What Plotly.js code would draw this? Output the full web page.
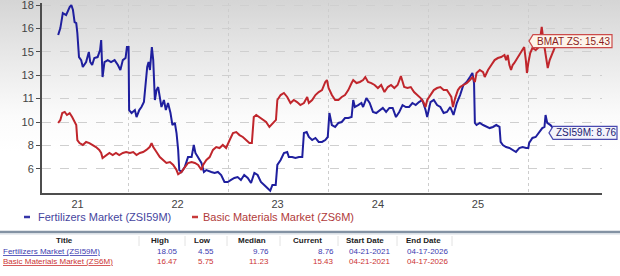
<!DOCTYPE html>
<html>
<head>
<meta charset="utf-8">
<script src="https://cdn.plot.ly/plotly-3.0.1.min.js"></script>
<style>
html,body{margin:0;padding:0;background:#fff;}
#chart{width:620px;height:276px;}
</style>
</head>
<body>
<div id="chart"></div>
<script>
// ---------- DATA ----------
var fertDates = ["2021-04-21","2021-04-29","2021-05-08","2021-05-20","2021-06-02","2021-06-08","2021-06-14","2021-06-20","2021-06-26","2021-06-30",
"2021-07-06","2021-07-14","2021-07-20","2021-08-01","2021-08-11","2021-08-16","2021-08-23","2021-08-31","2021-09-12","2021-09-21",
"2021-09-25","2021-09-30","2021-10-07","2021-10-19","2021-10-31","2021-11-13","2021-11-25","2021-12-04","2021-12-13","2021-12-23",
"2021-12-28","2022-01-03","2022-01-05","2022-01-14","2022-01-26","2022-02-01","2022-02-11","2022-02-19","2022-02-28","2022-03-07",
"2022-03-12","2022-03-17","2022-03-22","2022-03-29","2022-04-03","2022-04-09","2022-04-15","2022-04-21","2022-04-27","2022-05-03",
"2022-05-12","2022-05-19","2022-05-27","2022-06-05","2022-06-12","2022-06-21","2022-06-27","2022-07-03","2022-07-07","2022-07-15",
"2022-07-27","2022-08-08","2022-08-21","2022-08-29","2022-09-04","2022-09-14","2022-09-26","2022-10-05","2022-10-14","2022-11-01",
"2022-11-13","2022-11-25","2022-12-07","2022-12-19","2022-12-31","2023-01-12","2023-01-24","2023-02-05","2023-02-17","2023-03-01",
"2023-03-14","2023-03-26","2023-04-07","2023-04-19","2023-05-01","2023-05-13","2023-05-25","2023-06-04","2023-06-12","2023-06-24",
"2023-06-30","2023-07-12","2023-07-24","2023-08-05","2023-08-11","2023-08-23","2023-09-04","2023-09-17","2023-09-29","2023-10-05",
"2023-10-15","2023-10-23","2023-11-04","2023-11-16","2023-11-28","2023-12-10","2023-12-22","2023-12-31","2024-01-06","2024-01-15",
"2024-01-27","2024-02-08","2024-02-20","2024-03-03","2024-03-15","2024-03-27","2024-04-02","2024-04-08","2024-04-20","2024-05-02",
"2024-05-08","2024-05-20","2024-06-01","2024-06-13","2024-06-25","2024-07-07","2024-07-19","2024-07-31","2024-08-12","2024-08-24",
"2024-09-05","2024-09-17","2024-09-29","2024-10-11","2024-10-23","2024-11-04","2024-11-16","2024-11-28","2024-12-10","2024-12-22",
"2024-12-28","2025-01-09","2025-01-21","2025-02-02","2025-02-14","2025-02-26","2025-03-10","2025-03-22","2025-04-03","2025-04-15",
"2025-04-27","2025-05-09","2025-05-21","2025-06-02","2025-06-11","2025-06-17","2025-06-20","2025-06-26","2025-07-08","2025-07-20",
"2025-08-01","2025-08-13","2025-08-25","2025-09-06","2025-09-18","2025-09-22","2025-09-30","2025-10-12","2025-10-24","2025-11-05",
"2025-11-17","2025-11-29","2025-12-11","2025-12-24","2026-01-01","2026-01-04","2026-01-16","2026-01-28","2026-02-09","2026-02-21",
"2026-03-01","2026-03-05","2026-03-11","2026-03-23","2026-04-17"];
var fertValues = [15.87,16.38,17.47,17.32,17.9,18.05,17.69,16.81,16.74,16.02,
14.27,14.05,13.55,13.91,14.64,13.91,13.69,14.2,14.27,14.78,
15.51,12.82,13.91,14.05,13.91,14.05,13.69,13.33,14.05,14.2,
15.0,15.0,10.42,10.2,10.42,9.91,10.42,10.64,11.0,12.82,
13.55,13.91,13.33,15.0,14.05,11.15,11.87,12.09,11.15,10.64,
11.15,10.42,10.93,10.2,9.33,9.48,8.75,7.52,6.06,5.92,
6.28,7.0,7.0,7.88,7.3,7.0,6.57,5.92,6.06,5.92,
5.85,5.92,5.7,5.19,5.19,5.34,5.48,5.55,5.34,5.7,
5.48,5.12,5.85,5.7,5.19,4.97,4.75,4.55,4.97,4.97,
6.43,6.79,7.3,7.37,7.0,7.0,6.93,7.0,7.0,8.75,
8.82,8.46,8.24,8.39,8.1,8.1,8.24,8.46,10.2,9.33,
9.19,9.48,9.55,9.84,9.84,9.91,11.15,10.64,10.78,10.93,
10.64,11.29,10.93,10.28,10.2,10.42,10.57,10.28,10.57,10.57,
9.91,10.28,10.78,10.64,10.64,10.93,10.78,11.0,11.15,10.42,
9.91,11.0,11.15,10.78,10.64,10.2,10.28,10.64,10.06,10.93,
11.51,12.24,12.46,12.82,13.11,12.38,9.48,9.33,9.48,9.33,
9.19,9.11,9.19,9.33,9.19,8.1,7.88,7.73,7.66,7.52,
7.37,7.66,7.73,7.66,7.66,8.02,8.39,8.46,8.75,9.11,
9.19,10.06,9.48,9.33,8.76];

var bmatDates = ["2021-04-21","2021-04-29","2021-05-06","2021-05-15","2021-05-23","2021-06-02","2021-06-11","2021-06-20","2021-06-26","2021-06-30",
"2021-07-08","2021-07-20","2021-08-01","2021-08-13","2021-08-25","2021-09-06","2021-09-18","2021-09-25","2021-09-30","2021-10-13",
"2021-10-25","2021-11-06","2021-11-18","2021-11-30","2021-12-13","2021-12-25","2022-01-08","2022-01-20","2022-02-01","2022-02-13",
"2022-02-25","2022-03-09","2022-03-21","2022-03-28","2022-04-03","2022-04-15","2022-04-27","2022-05-09","2022-05-21","2022-06-03",
"2022-06-15","2022-06-27","2022-07-03","2022-07-15","2022-07-27","2022-08-08","2022-08-21","2022-09-02","2022-09-14","2022-09-26",
"2022-10-02","2022-10-14","2022-10-26","2022-11-07","2022-11-19","2022-12-01","2022-12-13","2022-12-25","2023-01-07","2023-01-19",
"2023-01-31","2023-02-12","2023-02-24","2023-03-08","2023-03-20","2023-03-29","2023-04-05","2023-04-14","2023-04-26","2023-05-08",
"2023-05-20","2023-06-01","2023-06-13","2023-06-25","2023-06-30","2023-07-12","2023-07-24","2023-08-05","2023-08-17","2023-08-29",
"2023-09-10","2023-09-22","2023-10-05","2023-10-17","2023-10-23","2023-11-04","2023-11-16","2023-11-28","2023-12-10","2023-12-22",
"2023-12-28","2024-01-03","2024-01-15","2024-01-27","2024-02-08","2024-02-20","2024-03-03","2024-03-15","2024-03-27","2024-04-02",
"2024-04-14","2024-04-26","2024-05-08","2024-05-16","2024-05-26","2024-06-07","2024-06-19","2024-07-01","2024-07-13","2024-07-25",
"2024-08-06","2024-08-18","2024-08-30","2024-09-11","2024-09-23","2024-10-05","2024-10-17","2024-10-29","2024-11-10","2024-11-22",
"2024-12-04","2024-12-14","2024-12-22","2024-12-28","2025-01-09","2025-01-21","2025-02-02","2025-02-14","2025-02-26","2025-03-10",
"2025-03-17","2025-03-26","2025-04-01","2025-04-09","2025-04-19","2025-04-27","2025-05-09","2025-05-21","2025-06-02","2025-06-11",
"2025-06-20","2025-06-26","2025-07-08","2025-07-20","2025-07-26","2025-08-07","2025-08-19","2025-08-31","2025-09-12","2025-09-24",
"2025-10-06","2025-10-12","2025-10-18","2025-10-24","2025-10-30","2025-11-05","2025-11-11","2025-11-23","2025-12-05","2025-12-17",
"2025-12-23","2025-12-27","2026-01-01","2026-01-08","2026-01-16","2026-01-28","2026-02-09","2026-02-15","2026-02-19","2026-02-25",
"2026-03-05","2026-03-11","2026-03-13","2026-03-20","2026-04-17"];
var bmatValues = [9.48,9.7,10.2,10.28,10.06,10.2,9.91,9.48,9.33,8.24,
8.02,7.88,8.1,8.02,7.88,7.73,7.52,7.3,6.93,7.15,
7.3,7.15,7.3,7.15,7.3,7.37,7.3,7.37,7.15,7.3,
7.37,7.52,7.73,8.02,7.73,7.37,7.0,6.79,6.57,6.64,
6.43,6.06,5.75,5.92,6.21,6.57,6.64,6.57,6.43,6.06,
6.43,6.79,7.0,7.52,7.73,7.66,7.88,7.66,8.24,8.75,
8.82,8.6,8.46,8.24,8.02,8.02,9.91,10.06,9.91,9.7,
9.55,9.19,9.48,9.7,11.15,11.51,11.66,11.37,10.93,11.15,
11.0,10.78,10.93,11.37,10.93,11.15,11.51,11.73,11.87,12.46,
12.6,12.02,11.51,11.15,11.15,11.37,11.51,11.87,12.38,12.6,
12.38,12.46,12.6,12.82,12.46,12.38,12.24,12.02,12.24,11.73,
12.09,12.24,12.02,12.24,12.89,12.09,12.02,12.09,11.73,11.51,
11.29,11.0,10.64,11.15,11.51,11.87,12.02,12.09,11.87,11.87,
11.66,11.37,10.64,11.29,11.87,12.09,12.24,12.38,12.6,12.82,
12.46,13.11,13.33,13.18,12.82,13.33,13.69,14.05,14.2,14.27,
14.42,14.05,14.42,13.69,13.33,13.69,13.84,14.2,14.56,15.0,
14.05,13.11,13.84,14.56,14.93,14.78,15.0,15.73,16.47,15.51,
14.64,13.84,13.47,14.05,15.43];

var seriesNames = ["Fertilizers Market (ZSI59M)", "Basic Materials Market (ZS6M)"];
var tagLabels = ["ZSI59M: 8.76", "BMAT ZS: 15.43"];
var currentValues = [8.76, 15.43];

var yTickVals = [6.15, 7.85, 9.55, 11.25, 12.95, 14.65, 16.35, 18.05];
var yTickText = ["6", "8", "10", "11", "13", "15", "16", "18"];
var xTickVals = ["2021-07-01", "2022-07-01", "2023-07-01", "2024-07-01", "2025-07-01"];
var xTickText = ["21", "22", "23", "24", "25"];

var tableHeaders = ["Title", "High", "Low", "Median", "Current", "Start Date", "End Date"];
var tableHigh = ["18.05", "16.47"];
var tableLow = ["4.55", "5.75"];
var tableMedian = ["9.76", "11.23"];
var tableCurrent = ["8.76", "15.43"];
var tableStart = ["04-21-2021", "04-21-2021"];
var tableEnd = ["04-17-2026", "04-17-2026"];

// ---------- LAYOUT HELPERS ----------
var W = 620, H = 276;
var L = 42, R = 18, T = 3, B = 83;
var PW = W - L - R, PH = H - T - B;
function px(x) { return (x - L) / PW; }
function py(y) { return (H - B - y) / PH; }

var FONT = "Liberation Sans, Arial, sans-serif";
var BLUE = "#1f1f9e", RED = "#c0262c";
var rowColors = ["#3a3ab0", "#cc3333"];

var traces = [
  {x: fertDates, y: fertValues, name: seriesNames[0], type: "scatter", mode: "lines",
   line: {color: BLUE, width: 2}, hoverinfo: "skip"},
  {x: bmatDates, y: bmatValues, name: seriesNames[1], type: "scatter", mode: "lines",
   line: {color: RED, width: 2}, hoverinfo: "skip"}
];

var grad = "data:image/svg+xml;utf8," + encodeURIComponent(
  "<svg xmlns='http://www.w3.org/2000/svg' width='10' height='276' preserveAspectRatio='none'>" +
  "<defs><linearGradient id='g' x1='0' y1='0' x2='0' y2='1'>" +
  "<stop offset='0' stop-color='#d5d5d5'/><stop offset='0.2' stop-color='#e8e8e8'/>" +
  "<stop offset='0.42' stop-color='#fbfbfb'/><stop offset='0.55' stop-color='#ffffff'/>" +
  "<stop offset='1' stop-color='#ffffff'/></linearGradient></defs>" +
  "<rect width='10' height='276' fill='url(#g)'/></svg>");

var shapes = [];
var annotations = [];

// tags (callouts)
var tagSpec = [
  {tip: 549, left: 553, right: 617, val: currentValues[0], fill: "#f3f3fb", line: "#4a4ab0", txt: "#1c1c70", label: tagLabels[0]},
  {tip: 529, left: 533, right: 612, val: currentValues[1], fill: "#fdf4ea", line: "#cc4a4a", txt: "#8a1c1c", label: tagLabels[1]}
];
tagSpec.forEach(function (t) {
  var h = 6.5;
  shapes.push({
    type: "path", xref: "paper", yref: "y", ysizemode: "pixel", yanchor: t.val,
    path: "M" + px(t.tip) + ",0 L" + px(t.left) + "," + h + " L" + px(t.right) + "," + h +
          " L" + px(t.right) + "," + (-h) + " L" + px(t.left) + "," + (-h) + " Z",
    fillcolor: t.fill, line: {color: t.line, width: 1.2}, layer: "above"
  });
  annotations.push({
    xref: "paper", yref: "y", x: px((t.left + t.right) / 2 + 1), y: t.val, showarrow: false,
    text: t.label, font: {family: FONT, size: 10, color: t.txt}, xanchor: "center", yanchor: "middle"
  });
});

// legend
var legendX = [[24, 30, 38], [192, 198, 203]];
var legendTextColors = ["#45459e", "#b03a3a"];
var legendLineColors = ["#3535a8", "#c83a3a"];
for (var i = 0; i < 2; i++) {
  shapes.push({type: "line", xref: "paper", yref: "paper",
    x0: px(legendX[i][0]), x1: px(legendX[i][1]), y0: py(217), y1: py(217),
    line: {color: legendLineColors[i], width: 2.5}});
  annotations.push({xref: "paper", yref: "paper", x: px(legendX[i][2] - 2), y: py(217),
    xanchor: "left", yanchor: "middle", showarrow: false, text: seriesNames[i],
    font: {family: FONT, size: 11, color: legendTextColors[i]}});
}

// separator bar
shapes.push({type: "line", xref: "paper", yref: "paper", x0: px(0), x1: px(620), y0: py(232), y1: py(232),
  line: {color: "#8392a3", width: 2.5}});
shapes.push({type: "line", xref: "paper", yref: "paper", x0: px(0), x1: px(620), y0: py(234), y1: py(234),
  line: {color: "#d3dae2", width: 1}});

// table header separators
[139, 185, 227, 280, 338, 397, 452].forEach(function (x) {
  shapes.push({type: "line", xref: "paper", yref: "paper", x0: px(x), x1: px(x), y0: py(236), y1: py(246),
    line: {color: "#e2e2e2", width: 1}});
});

// table header
var headerCenters = [64, 160, 202, 252, 307, 365, 423];
tableHeaders.forEach(function (h, i) {
  annotations.push({xref: "paper", yref: "paper", x: px(headerCenters[i]), y: py(241), xanchor: "center", yanchor: "middle",
    showarrow: false, text: "<b>" + h + "</b>", font: {family: FONT, size: 8, color: "#222"}});
});

// table rows
var rowY = [251, 261.5];
var colRight = [180, 216, 271, 336, 392, 450];
for (var r = 0; r < 2; r++) {
  annotations.push({xref: "paper", yref: "paper", x: px(1), y: py(rowY[r]), xanchor: "left", yanchor: "middle",
    showarrow: false, text: "<u>" + seriesNames[r] + "</u>", font: {family: FONT, size: 8, color: rowColors[r]}});
  var vals = [tableHigh[r], tableLow[r], tableMedian[r], tableCurrent[r], tableStart[r], tableEnd[r]];
  vals.forEach(function (v, c) {
    annotations.push({xref: "paper", yref: "paper", x: px(colRight[c]), y: py(rowY[r]), xanchor: "right", yanchor: "middle",
      showarrow: false, text: v, font: {family: FONT, size: 8, color: rowColors[r]}});
  });
}

var layout = {
  width: W, height: H,
  margin: {l: L, r: R, t: T, b: B, pad: 0},
  paper_bgcolor: "#ffffff",
  plot_bgcolor: "rgba(0,0,0,0)",
  showlegend: false,
  font: {family: FONT},
  images: [{source: grad, xref: "paper", yref: "paper", x: px(0), y: py(0),
    sizex: W / PW, sizey: H / PH, sizing: "stretch", xanchor: "left", yanchor: "top", layer: "below"}],
  xaxis: {
    type: "date", range: ["2021-02-21", "2026-09-27"],
    tickmode: "array", tickvals: xTickVals, ticktext: xTickText,
    showgrid: false, zeroline: false,
    minor: {tick0: "2022-01-01", dtick: "M12", showgrid: true, gridcolor: "#cdcdcd", griddash: "dot", gridwidth: 1, ticks: ""},
    showline: true, linecolor: "#4d4d4d", linewidth: 2, ticks: "",
    tickfont: {family: FONT, size: 11, color: "#444"}, ticklabelstandoff: 0
  },
  yaxis: {
    range: [4.39, 18.2],
    tickmode: "array", tickvals: yTickVals, ticktext: yTickText,
    showgrid: true, gridcolor: "#cfcfcf", griddash: "dash", gridwidth: 1, zeroline: false,
    showline: true, linecolor: "#4d4d4d", linewidth: 2,
    ticks: "outside", ticklen: 4, tickcolor: "#4d4d4d", tickwidth: 1,
    ticklabeloverflow: "allow",
    tickfont: {family: FONT, size: 11, color: "#444"}
  },
  shapes: shapes,
  annotations: annotations
};

Plotly.newPlot("chart", traces, layout, {staticPlot: true, displayModeBar: false});
</script>
</body>
</html>
